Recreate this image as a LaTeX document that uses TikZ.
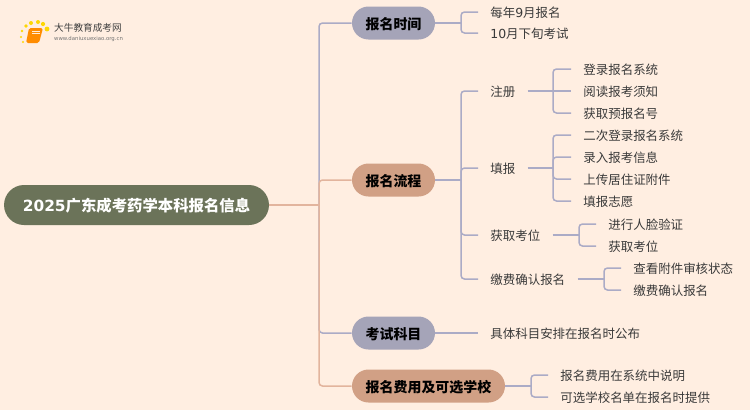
\documentclass[tikz,border=0pt]{standalone}
\usepackage{fontspec}
\setmainfont{Noto Sans CJK SC}
\newfontfamily\digitfont{DejaVu Sans}
\newfontfamily\urlfont{DejaVu Sans}
\usetikzlibrary{positioning,calc}
\definecolor{pagebg}{HTML}{FFEEE1}
\definecolor{rootfill}{HTML}{6B7359}
\definecolor{lavfill}{HTML}{A5A4B8}
\definecolor{salfill}{HTML}{D1A085}
\definecolor{lavline}{HTML}{ABABC6}
\definecolor{salline}{HTML}{E2B49D}
\definecolor{leaftext}{HTML}{3A3A3A}
\begin{document}
\begin{tikzpicture}[
    x=0.02cm, y=-0.02cm,
    rootbox/.style={fill=rootfill, text=white, rounded corners=0.4cm, minimum width=5.3cm, minimum height=0.8cm, font=\fontsize{8.75}{10}\selectfont\bfseries, inner sep=0pt, text height=8pt, text depth=1pt},
    topbox/.style={rounded corners=0.33cm, minimum height=0.66cm, text=black, font=\fontsize{7.95}{10}\selectfont\bfseries, inner sep=0pt, text height=8pt, text depth=1pt},
    leaf/.style={anchor=west, inner xsep=0.24cm, inner ysep=1pt, text=leaftext, font=\fontsize{7.1}{9}\selectfont, text height=7pt, text depth=0.6pt},
    lav/.style={draw=lavline, line width=0.03cm},
    sal/.style={draw=salline, line width=0.03cm},
    turn/.style={rounded corners=2pt}
]
\useasboundingbox[fill=pagebg] (0,0) rectangle (750,410);

% logo
\fill[yellow!75!orange] (26,26) circle (1.8) (31,23) circle (2) (38,22) circle (2) (43,24) circle (2.1) (47,29) circle (2.4) (22,31) circle (1.4) (21,37) circle (1.2) (23,42) circle (1.1);
\fill[orange!90!yellow, rounded corners=1pt] (29,28) -- (43,28) -- (39,43) -- (26,43) -- cycle;
\draw[white!85!orange, line width=0.4pt] (32,31) -- (40,31) (31.5,33.5) -- (39.5,33.5);
\node[inner sep=0pt, text=black!75, font=\fontsize{5.5}{6}\selectfont] (logotext) at (88,28) {大牛教育成考网};
\node[inner sep=0pt, text=black!55, font=\fontsize{3.05}{4}\urlfont] (logourl) at (88.5,39) {www.daniuxuexiao.org.cn};
\shade[left color=pagebg, middle color=black!22, right color=pagebg, draw=none] (50,33) rectangle (132,34);

% main nodes
\node[rootbox] (root) at (136.5,205) {{\digitfont 2025}广东成考药学本科报名信息};
\node[topbox, fill=lavfill, minimum width=1.66cm] (m1) at (393.5,23) {报名时间};
\node[topbox, fill=salfill, minimum width=1.66cm] (m2) at (393.5,180) {报名流程};
\node[topbox, fill=lavfill, minimum width=1.66cm] (m3) at (393.5,333) {考试科目};
\node[topbox, fill=salfill, minimum width=3.06cm] (m4) at (428.5,386) {报名费用及可选学校};

% second level
\node[leaf] (t1) at (478,12) {每年{\digitfont 9}月报名};
\node[leaf] (t2) at (478,33) {{\digitfont 10}月下旬考试};
\node[leaf] (f1) at (478,91) {注册};
\node[leaf] (f2) at (478,168) {填报};
\node[leaf] (f3) at (478,235) {获取考位};
\node[leaf] (f4) at (478,279) {缴费确认报名};
\node[leaf] (k1) at (478,333) {具体科目安排在报名时公布};
\node[leaf] (s1) at (548,375) {报名费用在系统中说明};
\node[leaf] (s2) at (548,397) {可选学校名单在报名时提供};

% third level
\node[leaf] (a1) at (571,69) {登录报名系统};
\node[leaf] (a2) at (571,91) {阅读报考须知};
\node[leaf] (a3) at (571,113) {获取预报名号};
\node[leaf] (b1) at (571,135) {二次登录报名系统};
\node[leaf] (b2) at (571,157) {录入报考信息};
\node[leaf] (b3) at (571,179) {上传居住证附件};
\node[leaf] (b4) at (571,201) {填报志愿};
\node[leaf] (c1) at (596,224) {进行人脸验证};
\node[leaf] (c2) at (596,246) {获取考位};
\node[leaf] (d1) at (621,268) {查看附件审核状态};
\node[leaf] (d2) at (621,290) {缴费确认报名};

% junctions
\coordinate (trunk) at (319,205);
\coordinate (jt) at (461,23);
\coordinate (jf) at (461,180);
\coordinate (js) at (531,386);
\coordinate (ja) at (553,91);
\coordinate (jb) at (553,168);
\coordinate (jc) at (579,235);
\coordinate (jd) at (604,279);

% connectors
\draw[lav, turn] (trunk) |- (m1.west);
\draw[lav, turn] (trunk) |- (m3.west);
\draw[sal] (root.east) -- (trunk);
\draw[sal, turn] (trunk) |- (m2.west);
\draw[sal, turn] (trunk) |- (m4.west);

\draw[lav] (m1.east) -- (jt);
\draw[lav, turn] (jt) |- (t1.west);
\draw[lav, turn] (jt) |- (t2.west);

\draw[lav] (m2.east) -- (jf);
\draw[lav, turn] (jf) |- (f1.west);
\draw[lav, turn] (jf) |- (f2.west);
\draw[lav, turn] (jf) |- (f3.west);
\draw[lav, turn] (jf) |- (f4.west);

\draw[lav] (m3.east) -- (k1.west);

\draw[lav] (m4.east) -- (js);
\draw[lav, turn] (js) |- (s1.west);
\draw[lav, turn] (js) |- (s2.west);

\draw[lav] (f1.east) -- (ja);
\draw[lav, turn] (ja) |- (a1.west);
\draw[lav] (ja) -- (a2.west);
\draw[lav, turn] (ja) |- (a3.west);

\draw[lav] (f2.east) -- (jb);
\draw[lav, turn] (jb) |- (b1.west);
\draw[lav, turn] (jb) |- (b2.west);
\draw[lav, turn] (jb) |- (b3.west);
\draw[lav, turn] (jb) |- (b4.west);

\draw[lav] (f3.east) -- (jc);
\draw[lav, turn] (jc) |- (c1.west);
\draw[lav, turn] (jc) |- (c2.west);

\draw[lav] (f4.east) -- (jd);
\draw[lav, turn] (jd) |- (d1.west);
\draw[lav, turn] (jd) |- (d2.west);
\end{tikzpicture}
\end{document}
